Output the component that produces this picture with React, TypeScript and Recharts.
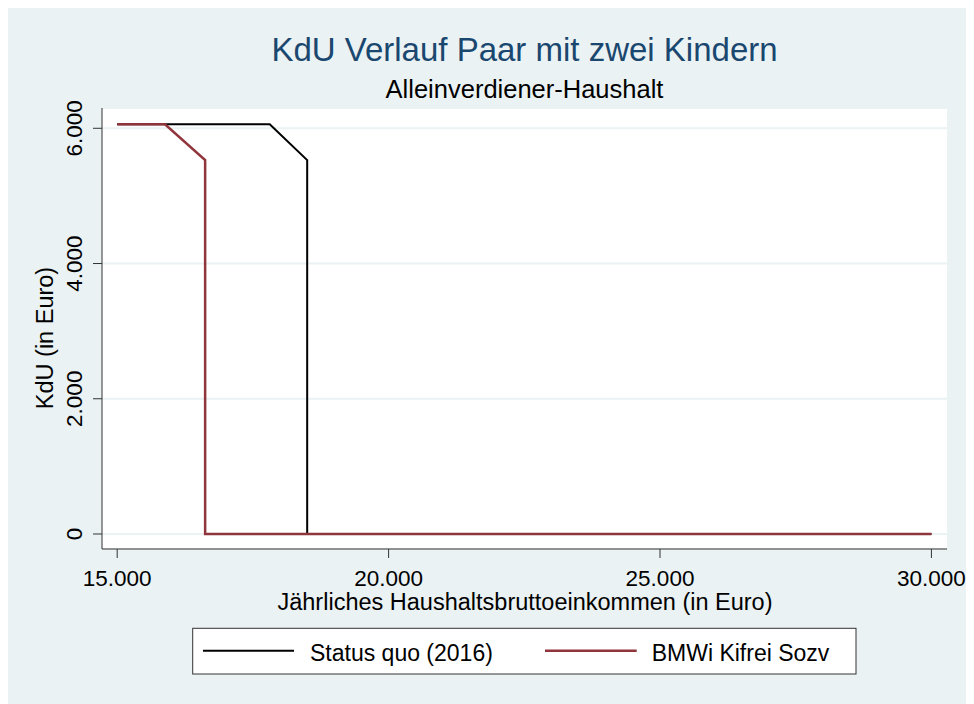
import React from "react";
import {
  LineChart,
  Line,
  XAxis,
  YAxis,
  CartesianGrid,
} from "recharts";

// Status quo (2016)
const statusQuoIncome = [15000, 17000, 17810, 18500, 18500, 30000];
const statusQuoKdu = [6060, 6060, 6060, 5530, 0, 0];

// BMWi Kifrei Sozv
const bmwiIncome = [15000, 15880, 16620, 16620, 30000];
const bmwiKdu = [6060, 6060, 5530, 0, 0];

const xTicks = [15000, 20000, 25000, 30000];
const yTicks = [0, 2000, 4000, 6000];

const seriesNames = ["Status quo (2016)", "BMWi Kifrei Sozv"];

const statusQuoData = statusQuoIncome.map((x, i) => ({ x, y: statusQuoKdu[i] }));
const bmwiData = bmwiIncome.map((x, i) => ({ x, y: bmwiKdu[i] }));

const W = 966;
const H = 696;
const FONT = "'Liberation Sans', Arial, Helvetica, sans-serif";
const BG = "#EAF2F3";
const NAVY = "#1A476F";
const MAROON = "#90353B";

function fmt(v: number): string {
  if (v === 0) return "0";
  return `${Math.floor(v / 1000)}.${String(v % 1000).padStart(3, "0")}`;
}

function XTick(props: any) {
  const { x, payload } = props;
  return (
    <text x={x} y={578} textAnchor="middle" fontSize={22.5} fill="#000" fontFamily={FONT}>
      {fmt(payload.value)}
    </text>
  );
}

function YTick(props: any) {
  const { y, payload } = props;
  return (
    <text
      transform={`translate(74, ${y}) rotate(-90)`}
      textAnchor="middle"
      fontSize={22.5}
      fill="#000"
      fontFamily={FONT}
    >
      {fmt(payload.value)}
    </text>
  );
}

export default function App() {
  return (
    <div style={{ position: "relative", width: W, height: H, background: BG, fontFamily: FONT }}>
      <LineChart
        width={W}
        height={H}
        margin={{ top: 100, right: 27, bottom: 125, left: 0 }}
      >
        <CartesianGrid
          vertical={false}
          stroke={BG}
          strokeWidth={2}
          fill="#fff"
          fillOpacity={1}
        />
        <XAxis
          type="number"
          dataKey="x"
          domain={[14720, 30287]}
          ticks={xTicks}
          allowDataOverflow
          height={30}
          tickSize={9}
          tick={<XTick />}
          axisLine={{ stroke: "#333" }}
          tickLine={{ stroke: "#333" }}
        />
        <YAxis
          type="number"
          dataKey="y"
          domain={[-222, 6300]}
          ticks={yTicks}
          allowDataOverflow
          width={94}
          tickSize={9}
          tick={<YTick />}
          axisLine={{ stroke: "#333" }}
          tickLine={{ stroke: "#333" }}
        />
        <Line
          data={statusQuoData}
          dataKey="y"
          name={seriesNames[0]}
          type="linear"
          stroke="#000"
          strokeWidth={2}
          dot={false}
          isAnimationActive={false}
        />
        <Line
          data={bmwiData}
          dataKey="y"
          name={seriesNames[1]}
          type="linear"
          stroke={MAROON}
          strokeWidth={2.5}
          dot={false}
          isAnimationActive={false}
        />
      </LineChart>
      <svg
        width={W}
        height={H}
        style={{ position: "absolute", left: 0, top: 0, pointerEvents: "none" }}
        fontFamily={FONT}
      >
        <text x={516.5} y={53} textAnchor="middle" fontSize={33} fill={NAVY}>
          KdU Verlauf Paar mit zwei Kindern
        </text>
        <text x={516.5} y={90} textAnchor="middle" fontSize={25.5} fill="#000">
          Alleinverdiener-Haushalt
        </text>
        <text
          transform="translate(45, 330) rotate(-90)"
          textAnchor="middle"
          fontSize={23.5}
          fill="#000"
        >
          KdU (in Euro)
        </text>
        <text x={517} y={602} textAnchor="middle" fontSize={23.5} fill="#000">
          Jährliches Haushaltsbruttoeinkommen (in Euro)
        </text>
        <rect x={184.7} y={620.3} width={663.3} height={45.7} fill="#fff" stroke="#333" strokeWidth={1} />
        <line x1={195} x2={286} y1={642.7} y2={642.7} stroke="#000" strokeWidth={2} />
        <text x={302} y={652.7} fontSize={23} fill="#000">
          {seriesNames[0]}
        </text>
        <line x1={537} x2={628.7} y1={642.7} y2={642.7} stroke={MAROON} strokeWidth={2.5} />
        <text x={643.7} y={652.7} fontSize={23} fill="#000">
          {seriesNames[1]}
        </text>
      </svg>
    </div>
  );
}
